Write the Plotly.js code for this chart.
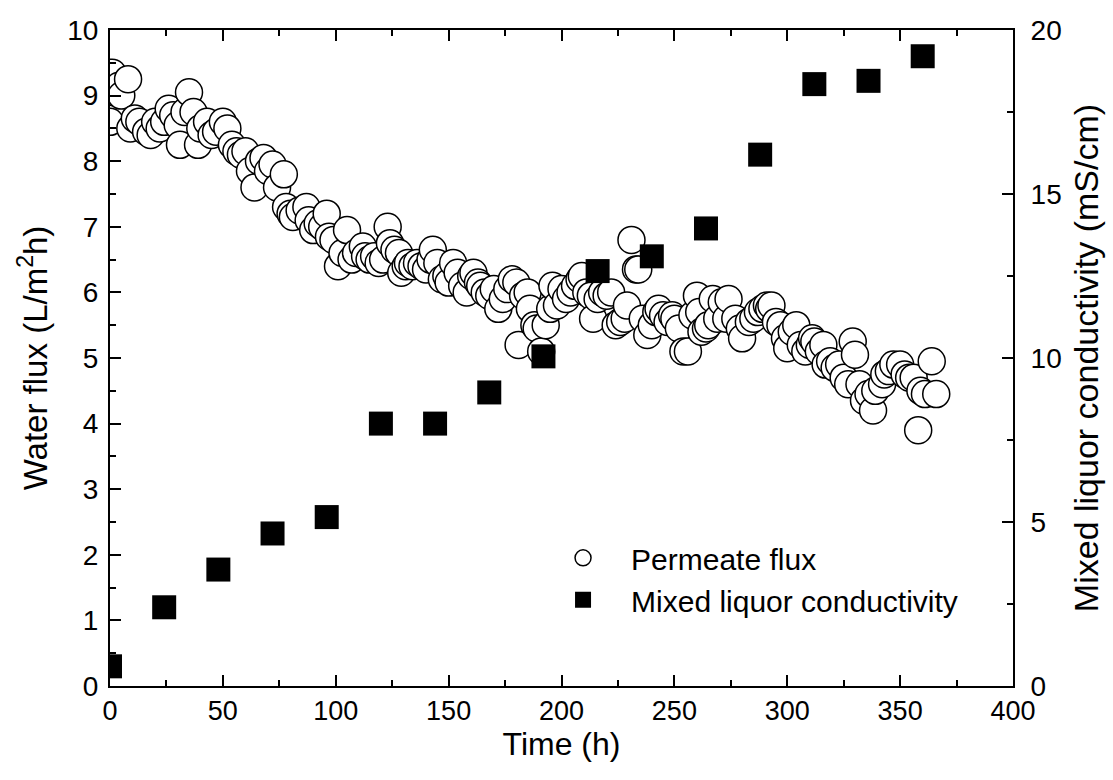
<!DOCTYPE html>
<html>
<head>
<meta charset="utf-8">
<script src="https://cdn.plot.ly/plotly-3.0.1.min.js"></script>
<style>html,body{margin:0;padding:0;background:#fff;}#chart{width:1113px;height:780px;}</style>
</head>
<body>
<div id="chart"></div>
<script>
// Permeate flux (L/m2h) vs time (h)
var fluxTime = [0,1,2,4,5,8,9,11,13,16,18,20,22,24,26,28,30,31,33,35,37,39,40,43,45,47,50,52,54,56,58,60,62,64,66,68,70,72,74,77,78,80,81,84,87,88,90,92,94,96,97,99,101,103,105,107,109,112,113,115,117,119,121,123,124,126,128,129,131,132,134,136,138,140,142,143,145,147,149,150,152,154,156,158,160,161,163,164,166,168,170,172,174,176,178,180,181,183,185,186,188,189,191,193,195,196,198,200,202,204,206,208,209,211,213,214,216,218,220,222,224,226,228,229,231,233,234,236,238,240,242,243,245,247,249,250,252,254,256,258,260,261,262,264,265,267,269,271,273,274,277,279,280,283,285,287,289,291,292,293,295,297,299,300,302,304,306,308,310,311,312,314,316,317,319,321,323,325,327,329,330,332,334,336,338,339,342,343,345,347,350,352,354,356,358,359,361,364,366];
var fluxValue = [8.6,9.35,9.05,9.15,9.0,9.25,8.5,8.65,8.6,8.45,8.4,8.6,8.5,8.6,8.8,8.7,8.55,8.25,8.75,9.05,8.75,8.25,8.5,8.6,8.4,8.45,8.6,8.5,8.25,8.15,8.1,8.15,7.85,7.6,8.0,8.05,7.85,7.95,7.6,7.8,7.3,7.2,7.15,7.25,7.3,7.1,6.95,7.05,7.0,7.2,6.85,6.8,6.4,6.6,6.95,6.5,6.6,6.7,6.55,6.5,6.55,6.45,6.5,7.0,6.75,6.65,6.6,6.3,6.4,6.45,6.4,6.45,6.4,6.35,6.5,6.65,6.45,6.2,6.25,6.15,6.45,6.3,6.1,6.0,6.25,6.3,6.15,6.1,6.0,5.95,6.05,5.75,5.9,6.05,6.2,6.15,5.2,5.95,6.0,5.75,5.5,5.45,5.1,5.5,5.75,6.1,5.8,6.05,5.9,6.0,6.1,6.2,6.25,6.0,5.95,5.6,5.9,6.0,5.95,6.0,5.5,5.55,5.6,5.8,6.8,6.35,6.35,5.6,5.35,5.5,5.7,5.75,5.65,5.55,5.65,5.6,5.45,5.1,5.1,5.65,5.95,5.7,5.4,5.45,5.5,5.9,5.6,5.85,5.6,5.9,5.6,5.45,5.3,5.55,5.6,5.7,5.75,5.8,5.75,5.8,5.55,5.5,5.3,5.15,5.4,5.5,5.2,5.1,5.2,5.3,5.25,5.1,5.2,4.9,4.95,4.85,4.9,4.7,4.6,5.25,5.05,4.6,4.35,4.45,4.2,4.5,4.6,4.75,4.8,4.9,4.9,4.75,4.7,4.7,3.9,4.5,4.45,4.95,4.45];

// Mixed liquor conductivity (mS/cm)
var condTime = [0,24,48,72,96,120,144,168,192,216,240,264,288,312,336,360];
var condValue = [0.6,2.4,3.55,4.65,5.15,8.0,8.0,8.95,10.05,12.65,13.1,13.95,16.2,18.35,18.45,19.2];

var fontFam = '"Liberation Sans", Arial, sans-serif';

var traces = [
  {
    x: fluxTime, y: fluxValue, type: 'scatter', mode: 'markers',
    name: 'Permeate flux',
    marker: {symbol: 'circle', size: 27, color: '#ffffff', line: {color: '#000000', width: 1.5}},
    xaxis: 'x', yaxis: 'y'
  },
  {
    x: condTime, y: condValue, type: 'scatter', mode: 'markers',
    name: 'Mixed liquor conductivity',
    marker: {symbol: 'square', size: 24, color: '#000000', line: {color: '#000000', width: 0}},
    xaxis: 'x', yaxis: 'y2'
  }
];

function axisBase(extra) {
  var a = {
    ticks: 'inside', ticklen: 11, tickwidth: 2, tickcolor: '#000',
    showline: true, linewidth: 2, linecolor: '#000',
    showgrid: false, zeroline: false,
    tickfont: {family: fontFam, size: 28, color: '#000'}
  };
  for (var k in extra) a[k] = extra[k];
  return a;
}

var layout = {
  width: 1113, height: 780,
  margin: {l: 110, r: 100, t: 30, b: 94},
  paper_bgcolor: '#ffffff', plot_bgcolor: '#ffffff',
  font: {family: fontFam, size: 28, color: '#000000'},
  showlegend: true,
  legend: {
    x: 0.4707, y: 0.235, xanchor: 'left', yanchor: 'top',
    bgcolor: 'rgba(0,0,0,0)', borderwidth: 0,
    font: {family: fontFam, size: 30, color: '#000000'},
    itemsizing: 'trace', itemwidth: 86
  },
  xaxis: axisBase({
    range: [0, 400], tickmode: 'linear', tick0: 0, dtick: 50,
    minor: {ticks: 'inside', ticklen: 6, tickwidth: 2, tickcolor: '#000', dtick: 25, tick0: 0, showgrid: false},
    mirror: 'ticks', ticklabelstandoff: 0,
    tickfont: {family: fontFam, size: 27, color: '#000'},
    title: {text: 'Time (h)', font: {family: fontFam, size: 32, color: '#000'}, standoff: 0}
  }),
  yaxis: axisBase({
    range: [0, 10], tickmode: 'linear', tick0: 0, dtick: 1,
    minor: {ticks: 'inside', ticklen: 6, tickwidth: 2, tickcolor: '#000', dtick: 0.5, tick0: 0, showgrid: false},
    mirror: true, ticklabelstandoff: 4,
    title: {text: 'Water flux (L/m<sup>2</sup>h)', font: {family: fontFam, size: 33, color: '#000'}, standoff: 10}
  }),
  yaxis2: axisBase({
    range: [0, 20], overlaying: 'y', side: 'right',
    tickmode: 'linear', tick0: 0, dtick: 5,
    minor: {ticks: 'inside', ticklen: 6, tickwidth: 2, tickcolor: '#000', dtick: 2.5, tick0: 0, showgrid: false},
    ticklabelstandoff: 10,
    title: {text: 'Mixed liquor conductivity (mS/cm)', font: {family: fontFam, size: 34, color: '#000'}, standoff: 13}
  })
};

Plotly.newPlot('chart', traces, layout, {displayModeBar: false, staticPlot: true});
</script>
</body>
</html>
